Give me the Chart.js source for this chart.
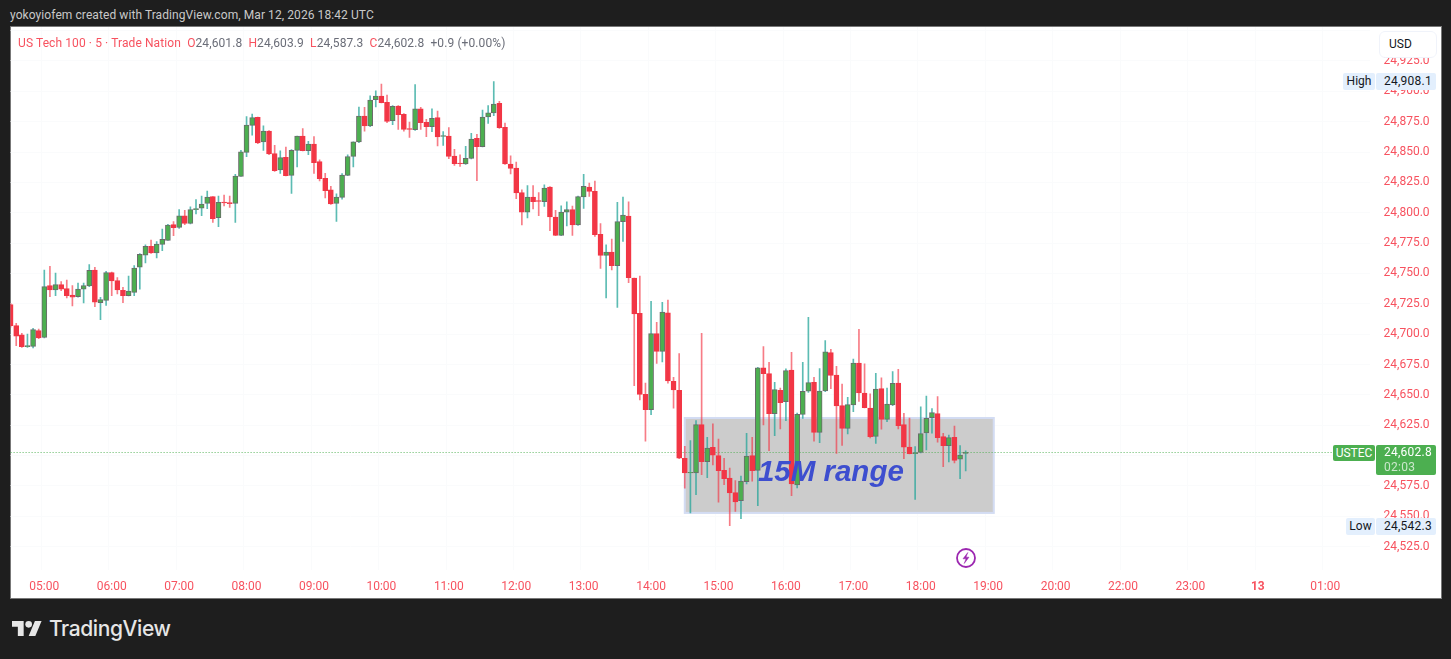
<!DOCTYPE html>
<html>
<head>
<meta charset="utf-8">
<title>US Tech 100</title>
<script src="https://cdn.jsdelivr.net/npm/chart.js@4"></script>
<style>
html, body { margin: 0; padding: 0; width: 1451px; height: 659px; overflow: hidden; background: #1e1e1e; }
body, .tag { font-family: Roboto, sans-serif; font-size: 12px; }
.abs { position: absolute; white-space: nowrap; }
#panel { position: absolute; left: 11px; top: 27px; width: 1430px; height: 571px; background: #fff; box-shadow: 0 0 0 1px #777; }
#wrap { position: absolute; left: 10px; top: 27px; width: 1431px; height: 571px; }
.tag { position: absolute; text-align: center; white-space: nowrap; border-radius: 2px; }
.val { text-align: left; box-sizing: border-box; padding-left: 8px; letter-spacing: .25px; }
.legend b { font-weight: 400; color: #f7525f; }
.legend { color: #6a6d78; letter-spacing: .1px; }
</style>
</head>
<body>
<div class="abs" style="left:10px;top:8px;color:#c9c9c9;line-height:15px;letter-spacing:.08px">yokoyiofem created with TradingView.com, Mar 12, 2026 18:42 UTC</div>
<div id="panel"></div>
<div id="wrap"><canvas id="chart"></canvas></div>

<div class="abs legend" style="left:18px;top:36px;line-height:15px"><b>US Tech 100 · 5 · Trade Nation</b>&nbsp;&nbsp;<b>O</b>24,601.8&nbsp;&nbsp;<b>H</b>24,603.9&nbsp;&nbsp;<b>L</b>24,587.3&nbsp;&nbsp;<b>C</b>24,602.8&nbsp;&nbsp;+0.9 (+0.00%)</div>

<div class="tag" style="left:1379px;top:31px;width:56px;height:25px;line-height:25px;background:#fff;border:1px solid #f0f3fa;border-radius:6px;color:#131722;text-align:left;text-indent:9px">USD</div>

<div class="tag" style="left:1343px;top:73px;width:32px;height:17px;line-height:17px;background:#e3effd;color:#131722">High</div>
<div class="tag val" id="highTag" style="left:1376px;top:73px;width:60px;height:17px;line-height:17px;background:#e3effd;color:#131722"></div>

<div class="tag" style="left:1333px;top:445px;width:42px;height:16px;line-height:16px;background:#4caf50;color:#fff">USTEC</div>
<div class="tag val" style="left:1376px;top:445px;width:60px;height:30px;background:#4caf50;color:#fff;line-height:15px"><span id="lastTag"></span><br><span style="opacity:.7">02:03</span></div>

<div class="tag" style="left:1346px;top:518px;width:29px;height:17px;line-height:17px;background:#e3effd;color:#131722">Low</div>
<div class="tag val" id="lowTag" style="left:1376px;top:518px;width:60px;height:17px;line-height:17px;background:#e3effd;color:#131722"></div>

<svg class="abs" style="left:955px;top:547px" width="22" height="22" viewBox="0 0 22 22">
  <circle cx="11" cy="11" r="9" fill="#fff" stroke="#9c27b0" stroke-width="1.8"/>
  <path d="M12.8 5.5 L8 11.8 H11 L9.2 16.5 L14 10.2 H11 Z" fill="#9c27b0" stroke="#9c27b0" stroke-width=".5"/>
</svg>

<svg class="abs" style="left:12px;top:621px" width="30" height="15" viewBox="0 4 36 18">
  <path fill="#e6e6e6" d="M14 22H7V11H0V4h14v18zM28 22h-8l7.5-18h8L28 22z"/>
  <circle fill="#e6e6e6" cx="20" cy="8" r="4"/>
</svg>
<div class="abs" style="left:49px;top:615px;color:#e6e6e6;font:500 21px/28px Inter, sans-serif;letter-spacing:-.4px">TradingView</div>

<script>
// 5 minute bars from 04:30
var openPrices = [
  24724.3,24707.0,24699.4,24689.7,24690.0,24702.9,24697.4,24740.0,24736.4,24740.8,
  24737.5,24732.3,24730.9,24737.0,24739.7,24752.9,24726.0,24727.9,24750.7,24744.1,
  24736.1,24731.7,24734.5,24755.1,24765.0,24772.4,24766.9,24774.0,24777.3,24790.2,
  24788.0,24797.4,24791.3,24802.6,24803.7,24807.8,24813.3,24796.0,24808.9,24808.3,
  24807.8,24830.0,24849.8,24872.0,24878.6,24858.3,24867.3,24848.7,24835.2,24845.6,
  24830.8,24851.4,24863.2,24851.1,24856.6,24842.1,24828.4,24819.0,24807.8,24812.7,
  24830.8,24846.5,24858.3,24879.7,24871.5,24893.1,24896.2,24890.9,24875.8,24887.9,
  24881.1,24869.3,24868.4,24885.7,24874.5,24870.9,24878.3,24862.9,24863.2,24846.7,
  24841.0,24840.2,24844.8,24861.3,24854.4,24878.9,24882.2,24890.1,24870.4,24840.2,
  24836.9,24816.6,24800.4,24813.0,24810.0,24809.1,24821.2,24796.5,24781.4,24800.4,
  24802.6,24789.9,24813.0,24821.2,24817.6,24782.2,24764.9,24767.7,24756.4,24792.7,
  24797.3,24746.3,24717.2,24650.5,24637.9,24700.5,24685.9,24717.5,24661.2,24653.8,
  24597.8,24585.7,24585.7,24625.5,24595.0,24606.8,24600.0,24587.9,24581.6,24569.5,
  24562.9,24578.6,24600.0,24587.9,24672.2,24667.5,24634.6,24653.8,24644.5,24670.5,
  24575.8,24634.0,24653.0,24660.4,24619.2,24653.2,24684.8,24666.4,24641.2,24622.5,
  24641.7,24676.3,24651.6,24639.2,24615.9,24655.2,24629.9,24641.7,24659.8,24625.5,
  24607.1,24601.6,24602.7,24618.7,24631.3,24634.6,24615.6,24608.2,24615.1,24597.0,
  24601.8
];
var closePrices = [
  24707.0,24698.3,24689.7,24690.6,24703.8,24696.9,24739.2,24736.4,24740.8,24737.0,
  24731.7,24730.4,24737.2,24740.0,24752.6,24726.3,24728.5,24750.7,24743.8,24736.4,
  24731.7,24735.6,24754.5,24765.8,24772.4,24766.9,24774.3,24778.1,24789.9,24787.7,
  24797.4,24791.3,24802.6,24803.4,24807.2,24813.0,24795.2,24808.6,24808.1,24807.5,
  24830.3,24850.1,24872.3,24878.3,24857.5,24867.3,24848.4,24834.7,24845.4,24830.5,
  24851.4,24863.2,24851.1,24856.6,24841.3,24828.1,24818.2,24807.2,24813.0,24831.1,
  24846.2,24858.5,24879.7,24871.5,24892.9,24896.2,24890.7,24875.3,24887.6,24880.8,
  24868.7,24868.7,24885.7,24874.2,24870.9,24877.8,24862.4,24863.5,24846.5,24840.4,
  24840.4,24844.8,24860.7,24854.4,24878.9,24882.4,24889.6,24870.1,24840.2,24836.6,
  24816.3,24800.4,24813.0,24809.1,24809.4,24820.4,24796.5,24781.4,24800.6,24802.6,
  24789.9,24813.3,24821.8,24817.6,24782.0,24764.9,24767.7,24756.4,24792.7,24798.2,
  24746.6,24716.6,24650.5,24637.9,24700.5,24685.9,24718.3,24661.5,24654.1,24597.8,
  24585.7,24586.3,24625.5,24595.0,24606.3,24600.3,24587.6,24581.0,24569.2,24561.8,
  24579.1,24599.7,24587.6,24672.2,24667.5,24634.6,24654.3,24643.6,24670.0,24576.7,
  24634.0,24653.0,24660.1,24619.2,24653.2,24685.4,24666.1,24640.9,24622.5,24642.0,
  24676.3,24651.6,24639.5,24615.6,24654.9,24629.9,24642.5,24659.6,24624.7,24606.9,
  24601.6,24602.5,24618.1,24630.7,24635.4,24614.8,24608.2,24614.8,24596.1,24600.5,
  24602.8
];
var highPrices = [
  24725.4,24709.0,24700.7,24700.2,24704.9,24704.3,24752.9,24755.9,24750.4,24743.3,
  24744.6,24740.0,24742.2,24742.2,24757.3,24755.1,24730.4,24751.8,24751.2,24746.6,
  24738.6,24747.9,24756.5,24766.3,24773.5,24777.6,24776.2,24786.6,24790.5,24792.7,
  24802.6,24802.0,24804.8,24810.8,24813.8,24817.9,24813.3,24813.8,24814.6,24813.8,
  24831.7,24851.4,24879.2,24881.3,24878.9,24871.7,24867.6,24855.5,24851.1,24854.2,
  24852.0,24863.2,24869.3,24858.8,24862.7,24843.7,24832.5,24821.8,24815.7,24832.2,
  24847.8,24858.5,24887.1,24886.8,24896.4,24900.5,24906.0,24897.0,24888.2,24888.2,
  24881.6,24874.7,24905.5,24886.8,24876.9,24885.7,24883.8,24866.8,24870.1,24852.2,
  24847.8,24854.7,24865.4,24864.6,24884.6,24888.2,24908.1,24891.8,24873.9,24847.0,
  24841.8,24819.0,24822.3,24822.3,24816.6,24823.1,24821.5,24802.0,24805.8,24809.1,
  24805.6,24813.8,24831.6,24824.5,24826.2,24791.0,24773.7,24778.4,24808.6,24813.0,
  24809.1,24746.3,24747.9,24659.8,24727.1,24709.8,24726.3,24728.2,24664.5,24684.0,
  24607.7,24612.3,24628.8,24700.7,24615.1,24626.1,24613.7,24597.8,24589.8,24579.4,
  24583.2,24618.4,24615.1,24672.7,24689.7,24676.8,24660.4,24655.7,24671.4,24685.1,
  24635.1,24676.8,24713.9,24664.5,24671.6,24694.7,24687.6,24673.6,24659.0,24648.0,
  24679.6,24704.0,24675.5,24650.8,24667.8,24664.0,24655.7,24669.2,24671.1,24634.9,
  24631.0,24607.4,24640.1,24649.1,24638.7,24648.6,24618.4,24617.0,24624.4,24608.2,
  24603.9
];
var lowPrices = [
  24705.7,24690.6,24689.2,24689.2,24688.6,24696.3,24696.9,24730.9,24731.7,24735.9,
  24729.8,24723.2,24730.4,24725.7,24739.2,24722.7,24712.0,24723.8,24731.7,24733.1,
  24726.0,24731.5,24731.7,24737.0,24758.6,24766.6,24762.8,24768.8,24777.3,24781.2,
  24787.2,24790.2,24790.8,24799.0,24797.6,24803.4,24792.1,24788.6,24805.6,24804.5,
  24792.1,24830.0,24846.2,24864.0,24856.9,24851.4,24847.8,24834.1,24832.5,24830.3,
  24816.0,24837.7,24850.9,24847.8,24832.5,24826.2,24812.2,24806.9,24792.9,24811.3,
  24830.5,24837.7,24857.7,24867.3,24870.9,24887.1,24890.4,24874.2,24872.5,24868.7,
  24867.3,24862.1,24867.9,24868.7,24862.7,24866.8,24855.0,24855.5,24844.5,24839.1,
  24838.2,24839.9,24844.3,24826.4,24854.2,24873.6,24880.0,24869.5,24839.9,24831.9,
  24811.6,24789.9,24795.7,24803.1,24797.6,24805.3,24785.3,24781.1,24781.1,24789.1,
  24781.4,24789.6,24803.6,24813.5,24780.6,24754.2,24729.8,24752.9,24722.1,24776.5,
  24742.4,24657.6,24645.8,24611.8,24633.8,24676.0,24677.1,24659.6,24639.0,24597.5,
  24573.1,24552.8,24567.9,24584.3,24581.9,24592.3,24561.6,24576.1,24542.3,24554.1,
  24548.1,24576.7,24578.9,24558.8,24625.2,24604.1,24616.5,24621.9,24628.8,24567.0,
  24573.4,24630.7,24652.1,24611.8,24610.7,24652.7,24655.2,24601.9,24608.5,24617.8,
  24636.2,24644.7,24639.2,24614.5,24610.1,24621.7,24628.0,24641.2,24622.0,24597.5,
  24601.4,24564.0,24602.2,24604.7,24618.4,24611.0,24590.9,24594.8,24594.0,24581.1,
  24587.3
];

// hour marks on the time axis (no 21:00, the market is shut then)
var tickLabels = ["05:00","06:00","07:00","08:00","09:00","10:00","11:00","12:00","13:00","14:00",
  "15:00","16:00","17:00","18:00","19:00","20:00","22:00","23:00","13","01:00"];

var lastPrice = 24602.8;
var sessionHigh = 24908.1;
var sessionLow = 24542.3;

// the drawn 15M range box: bar index and price bounds
var rangeBars = [120, 175];
var rangePrices = [24552.8, 24631.0];

var barsPerHour = 12;
var firstHourBar = 6;
var barCount = 243;

var categories = [];
for (var n = 0; n < barCount; n++) {
  var k = (n - firstHourBar) / barsPerHour;
  categories.push(n >= firstHourBar && k === Math.floor(k) ? tickLabels[k] : "");
}

function fmt(v) {
  return v.toLocaleString("en-US", { minimumFractionDigits: 1, maximumFractionDigits: 1 });
}

document.getElementById("highTag").textContent = fmt(sessionHigh);
document.getElementById("lowTag").textContent = fmt(sessionLow);
document.getElementById("lastTag").textContent = fmt(lastPrice);

var RED = "#f23645", GREEN = "#4caf50", TICK = "#f7525f";
var RED_WICK = "rgba(242,54,69,.65)", TEAL_WICK = "rgba(38,166,154,.75)";

var isUp = closePrices.map(function (c, i) { return c >= openPrices[i]; });

// scales must not push the plot area in for half a label
function noPadding(s) {
  s.paddingLeft = 0;
  s.paddingRight = 0;
  s.paddingTop = 0;
  s.paddingBottom = 0;
}

var rangePlugin = {
  id: "rangeBox",
  beforeDatasetsDraw: function (chart) {
    var c = chart.ctx, x = chart.scales.x, y = chart.scales.y;
    var l = x.getPixelForValue(rangeBars[0]), r = x.getPixelForValue(rangeBars[1]);
    var t = y.getPixelForValue(rangePrices[1]), b = y.getPixelForValue(rangePrices[0]);
    c.save();
    c.fillStyle = "#cccccc";
    c.fillRect(l, t, r - l, b - t);
    c.strokeStyle = "#d3dcf3";
    c.lineWidth = 2;
    c.strokeRect(l, t, r - l, b - t);
    // last price line
    var py = Math.round(y.getPixelForValue(lastPrice)) + 0.5;
    c.strokeStyle = "rgba(76,175,80,.9)";
    c.lineWidth = 1;
    c.setLineDash([1, 2]);
    c.beginPath();
    c.moveTo(chart.chartArea.left, py);
    c.lineTo(chart.chartArea.right, py);
    c.stroke();
    c.restore();
  },
  afterDatasetsDraw: function (chart) {
    var c = chart.ctx, x = chart.scales.x, y = chart.scales.y;
    c.save();
    c.font = "italic bold 29.5px 'Liberation Sans', sans-serif";
    c.fillStyle = "#3d4ecf";
    c.textAlign = "center";
    c.textBaseline = "middle";
    c.fillText("15M range", (x.getPixelForValue(133) + x.getPixelForValue(159)) / 2, y.getPixelForValue(24585.5));
    c.restore();
  }
};

var ctx = document.getElementById("chart").getContext("2d");
var chart = new Chart(ctx, {
  type: "bar",
  data: {
    labels: categories,
    datasets: [{
      label: "Body",
      data: openPrices.map(function (o, i) { return [o, closePrices[i]]; }),
      backgroundColor: isUp.map(function (u) { return u ? GREEN : RED; }),
      borderColor: isUp.map(function (u) { return u ? "#6b6b6b" : RED; }),
      borderWidth: 1,
      borderSkipped: false,
      barThickness: 5,
      grouped: false
    }, {
      label: "Wick",
      data: lowPrices.map(function (l, i) { return [l, highPrices[i]]; }),
      backgroundColor: isUp.map(function (u) { return u ? TEAL_WICK : RED_WICK; }),
      borderWidth: 0,
      barThickness: 1,
      grouped: false
    }]
  },
  options: {
    responsive: true,
    maintainAspectRatio: false,
    animation: false,
    layout: { padding: { left: 0.6 } },
    plugins: { legend: { display: false }, tooltip: { enabled: false } },
    scales: {
      x: {
        type: "category",
        offset: false,
        afterFit: function (s) { s.height = 28; noPadding(s); },
        border: { display: false },
        grid: {
          drawTicks: false,
          color: function (c) { return c.tick && c.tick.label ? "#fafbfc" : "transparent"; }
        },
        ticks: {
          autoSkip: false,
          maxRotation: 0,
          minRotation: 0,
          padding: 10,
          color: TICK,
          font: function (c) {
            return { family: "Roboto", size: 12, weight: c.tick && c.tick.label === "13" ? "bold" : "normal" };
          }
        }
      },
      y: {
        position: "right",
        min: 24505.8,
        max: 24953.0,
        afterFit: function (s) { s.width = 70.8; noPadding(s); },
        border: { display: false },
        grid: { drawTicks: false, color: "#fafbfc" },
        ticks: {
          stepSize: 25,
          includeBounds: false,
          padding: 13.4,
          color: TICK,
          font: { family: "Roboto", size: 12 },
          callback: function (v) { return v > 24930 ? "" : fmt(v); }
        }
      }
    }
  },
  plugins: [rangePlugin]
});
</script>
</body>
</html>
